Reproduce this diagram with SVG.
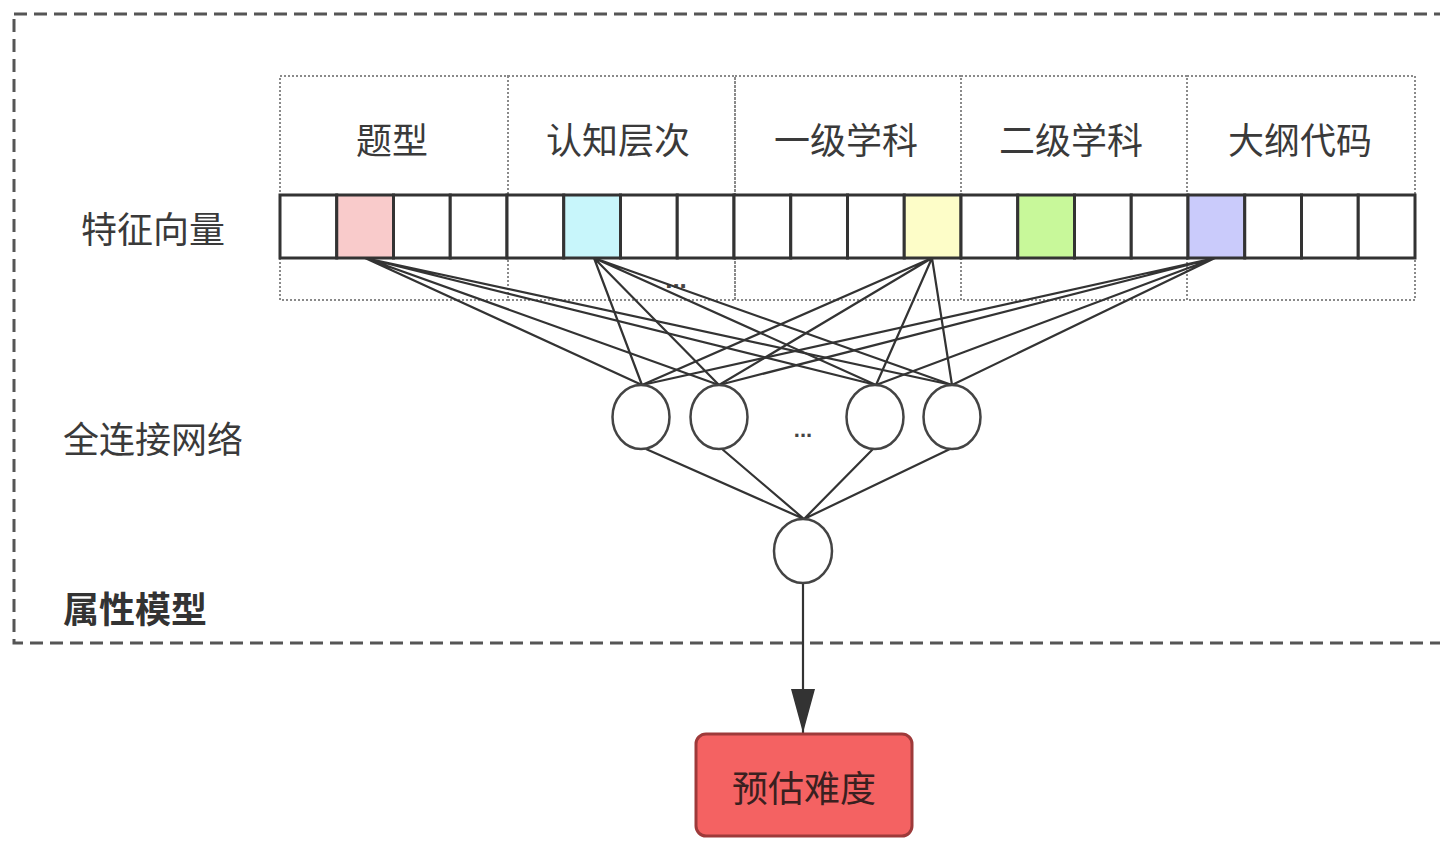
<svg xmlns="http://www.w3.org/2000/svg" width="1440" height="842" viewBox="0 0 1440 842">
<defs>
<style>
.lbl{font-family:"Noto Sans CJK SC","Noto Sans",sans-serif;font-size:36px;fill:#3a3a3a;text-anchor:middle;dominant-baseline:central}
.dots{font-family:"Liberation Sans",sans-serif;font-size:26px;font-weight:bold;fill:#444;text-anchor:middle}
.grp{fill:none;stroke:#8a8a8a;stroke-width:2;stroke-dasharray:2 2}
.cell{stroke:#333;stroke-width:3}
.edge{stroke:#333;stroke-width:2.2;fill:none}
.neuron{fill:#fff;stroke:#444;stroke-width:2.5}
</style>
<marker id="arr" markerWidth="44" markerHeight="24" refX="44" refY="12" orient="auto" markerUnits="userSpaceOnUse" viewBox="0 0 44 24">
<path d="M0,0 L44,12 L0,24 Z" fill="#333"/>
</marker>
</defs>
<rect width="1440" height="842" fill="#fff"/>
<g id="attribute-model">
<rect x="14" y="14" width="1440" height="629" fill="none" stroke="#555" stroke-width="3" stroke-dasharray="13 7"/>
<text class="lbl" x="135" y="607" style="font-weight:bold;fill:#333">属性模型</text>
</g>
<g id="row-labels">
<text class="lbl" x="153" y="227">特征向量</text>
<text class="lbl" x="153" y="437">全连接网络</text>
</g>
<g id="groups">
<rect class="grp" x="280" y="76" width="228" height="224"/>
<rect class="grp" x="508" y="76" width="227" height="224"/>
<rect class="grp" x="735" y="76" width="226" height="224"/>
<rect class="grp" x="961" y="76" width="226" height="224"/>
<rect class="grp" x="1187" y="76" width="228" height="224"/>
<text class="lbl" x="392" y="138">题型</text>
<text class="lbl" x="618" y="138">认知层次</text>
<text class="lbl" x="846" y="138">一级学科</text>
<text class="lbl" x="1071" y="138">二级学科</text>
<text class="lbl" x="1300" y="138">大纲代码</text>
</g>
<g id="feature-vector">
<rect class="cell" x="280" y="195" width="56.75" height="63" fill="#fff"/>
<rect class="cell" x="336.75" y="195" width="56.75" height="63" fill="#f9cbcb"/>
<rect class="cell" x="393.5" y="195" width="56.75" height="63" fill="#fff"/>
<rect class="cell" x="450.25" y="195" width="56.75" height="63" fill="#fff"/>
<rect class="cell" x="507" y="195" width="56.75" height="63" fill="#fff"/>
<rect class="cell" x="563.75" y="195" width="56.75" height="63" fill="#c8f6fb"/>
<rect class="cell" x="620.5" y="195" width="56.75" height="63" fill="#fff"/>
<rect class="cell" x="677.25" y="195" width="56.75" height="63" fill="#fff"/>
<rect class="cell" x="734" y="195" width="56.75" height="63" fill="#fff"/>
<rect class="cell" x="790.75" y="195" width="56.75" height="63" fill="#fff"/>
<rect class="cell" x="847.5" y="195" width="56.75" height="63" fill="#fff"/>
<rect class="cell" x="904.25" y="195" width="56.75" height="63" fill="#fdfdc8"/>
<rect class="cell" x="961" y="195" width="56.75" height="63" fill="#fff"/>
<rect class="cell" x="1017.75" y="195" width="56.75" height="63" fill="#c8f89a"/>
<rect class="cell" x="1074.5" y="195" width="56.75" height="63" fill="#fff"/>
<rect class="cell" x="1131.25" y="195" width="56.75" height="63" fill="#fff"/>
<rect class="cell" x="1188" y="195" width="56.75" height="63" fill="#cacbfb"/>
<rect class="cell" x="1244.75" y="195" width="56.75" height="63" fill="#fff"/>
<rect class="cell" x="1301.5" y="195" width="56.75" height="63" fill="#fff"/>
<rect class="cell" x="1358.25" y="195" width="56.75" height="63" fill="#fff"/>
<text class="dots" x="676" y="288">...</text>
</g>
<g id="connectors">
<path class="edge" d="M365,258 L642,385 M365,258 L719,385 M365,258 L876,385 M365,258 L952,385"/>
<path class="edge" d="M594,258 L642,385 M594,258 L719,385 M594,258 L876,385 M594,258 L952,385"/>
<path class="edge" d="M932,258 L642,385 M932,258 L719,385 M932,258 L876,385 M932,258 L952,385"/>
<path class="edge" d="M1215,258 L642,385 M1215,258 L719,385 M1215,258 L876,385 M1215,258 L952,385"/>
<path class="edge" d="M646,449 L804,519 M722,449 L804,519 M873,449 L804,519 M950,449 L804,519"/>
<line class="edge" x1="803" y1="583" x2="803" y2="733" marker-end="url(#arr)"/>
</g>
<g id="hidden-layer">
<ellipse class="neuron" cx="641" cy="417" rx="28.5" ry="32"/>
<ellipse class="neuron" cx="719" cy="417" rx="28.5" ry="32"/>
<ellipse class="neuron" cx="875" cy="417" rx="28.5" ry="32"/>
<ellipse class="neuron" cx="952" cy="417" rx="28.5" ry="32"/>
<text class="dots" x="803" y="437" style="font-size:22px">...</text>
</g>
<g id="output-neuron">
<ellipse class="neuron" cx="803" cy="551" rx="29" ry="32"/>
</g>
<g id="predicted-difficulty">
<rect x="696" y="734" width="216" height="102" rx="10" fill="#f46262" stroke="#9e3a3a" stroke-width="3"/>
<text class="lbl" x="804" y="786" style="fill:#3a2020">预估难度</text>
</g>
</svg>
